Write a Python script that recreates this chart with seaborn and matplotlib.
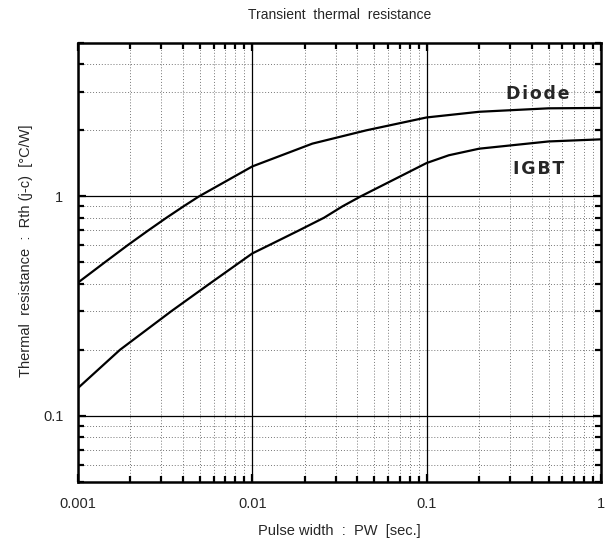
import matplotlib
matplotlib.use("Agg")
import matplotlib.pyplot as plt
import seaborn as sns
import pandas as pd
import numpy as np
from matplotlib.ticker import LogLocator, FixedLocator, NullFormatter, FixedFormatter

# data
diode_x = [0.001, 0.00142, 0.00193, 0.00253, 0.00322, 0.00402, 0.00494, 0.01,
           0.0221, 0.045, 0.1, 0.2, 0.5, 1.0]
diode_y = [0.405, 0.5, 0.6, 0.7, 0.8, 0.9, 1.0, 1.37,
           1.74, 2.0, 2.29, 2.43, 2.52, 2.53]
igbt_x = [0.001, 0.00174, 0.00343, 0.00568, 0.00844, 0.01, 0.0125, 0.0185,
          0.0258, 0.0328, 0.0418, 0.1, 0.134, 0.2, 0.5, 1.0]
igbt_y = [0.134, 0.2, 0.3, 0.4, 0.5, 0.55, 0.6, 0.7,
          0.8, 0.9, 1.0, 1.42, 1.54, 1.65, 1.78, 1.82]
x_ticks = [0.001, 0.01, 0.1, 1]
x_tick_labels = ["0.001", "0.01", "0.1", "1"]
y_ticks = [0.1, 1]
y_tick_labels = ["0.1", "1"]

df = pd.DataFrame({
    "pw": diode_x + igbt_x,
    "rth": diode_y + igbt_y,
    "device": ["Diode"] * len(diode_x) + ["IGBT"] * len(igbt_x),
})

sns.set_theme(style="white")
plt.rcParams["font.family"] = ["Liberation Sans", "DejaVu Sans"]

fig = plt.figure(figsize=(6.05, 5.42), dpi=100)
ax = fig.add_axes([78 / 605, 1 - 482 / 542, 523 / 605, 439 / 542])

sns.lineplot(data=df, x="pw", y="rth", units="device", estimator=None,
             color="black", linewidth=1.6, ax=ax, legend=False, sort=True)

ax.set_xscale("log")
ax.set_yscale("log")
ax.set_xlim(0.001, 1)
ax.set_ylim(0.05, 5)

ax.xaxis.set_major_locator(FixedLocator(x_ticks))
ax.xaxis.set_major_formatter(FixedFormatter(x_tick_labels))
ax.yaxis.set_major_locator(FixedLocator(y_ticks))
ax.yaxis.set_major_formatter(FixedFormatter(y_tick_labels))
ax.xaxis.set_minor_locator(LogLocator(base=10, subs=np.arange(2, 10)))
ax.yaxis.set_minor_locator(LogLocator(base=10, subs=np.arange(2, 10)))
ax.xaxis.set_minor_formatter(NullFormatter())
ax.yaxis.set_minor_formatter(NullFormatter())

ax.grid(True, which="major", color="black", linewidth=0.9, linestyle="-")
ax.grid(True, which="minor", color="#777777", linewidth=0.7, linestyle=(0, (1, 2)))

ax.tick_params(which="both", direction="in", top=True, bottom=True, left=True, right=True,
               color="black")
ax.tick_params(which="major", length=6, width=1.6, labelsize=10.5)
ax.tick_params(axis="x", which="major", pad=10.5)
ax.tick_params(axis="y", which="major", pad=10.5)
ax.tick_params(which="minor", length=4, width=1.6)

for s in ax.spines.values():
    s.set_color("black")
    s.set_linewidth(1.8)

ax.set_xlabel("Pulse width  :  PW  [sec.]", fontsize=10.5, labelpad=10)
ax.set_ylabel("Thermal  resistance  :  Rth (j-c)  [°C/W]", fontsize=10.5)
ax.yaxis.set_label_coords(-0.086, 0.526)
ax.set_title("Transient  thermal  resistance", fontsize=10, pad=17)

hs = "\u200a"
ax.text(0.436, 2.93, hs.join("Diode"), fontsize=12.5, fontweight="bold",
        family="DejaVu Sans", ha="center", va="center")
ax.text(0.436, 1.34, hs.join("IGBT"), fontsize=12.5, fontweight="bold",
        family="DejaVu Sans", ha="center", va="center")

fig.savefig("out.png", dpi=100)
